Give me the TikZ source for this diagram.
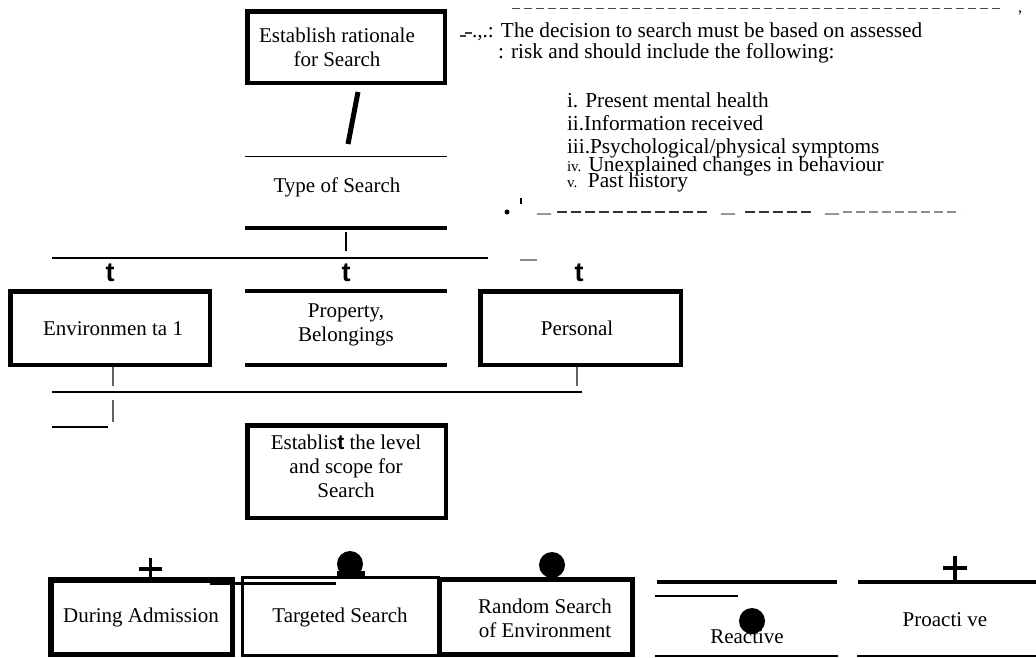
\documentclass[tikz,border=0pt]{standalone}
\usepackage{fontspec}
\setmainfont{Liberation Serif}
\newfontfamily\sansfam{Liberation Sans}
\begin{document}
\begin{tikzpicture}[x=1pt,y=-1pt,
  every node/.style={inner sep=0pt,outer sep=0pt},
  lbl/.style={font=\fontsize{21}{24}\selectfont,align=center},
  note/.style={font=\fontsize{21.3}{24}\selectfont,anchor=west},
  frame/.style={draw,line width=#1},
  tmark/.style={font=\sansfam\bfseries\fontsize{27}{27}\selectfont},
  rule/.style={line width=#1},
  greyrule/.style={draw=black!62,line width=2.5pt},
  dot/.style={circle,fill=black,minimum size=26pt}]
\useasboundingbox (0,0) rectangle (1036,657);

% --- top box
\node[frame=4.5pt,minimum width=197.5pt,minimum height=71.5pt] (b1) at (346,47) {};
\node[lbl] (b1t) at (337,47) {Establish rationale\\for Search};
\coordinate (s1) at (358,92); \coordinate (s2) at (348,144);
\draw[rule=5pt] (s1) -- (s2);

% --- type of search
\coordinate (ta) at (245,156); \coordinate (tb) at (447,156);
\draw[rule=1pt] (ta) -- (tb);
\node[lbl] (type) at (337,187) {Type of Search};
\coordinate (tc) at (245,228); \coordinate (td) at (447,228);
\draw[rule=4pt] (tc) -- (td);
\coordinate (v1) at (346,232); \coordinate (v2) at (346,251);
\draw[rule=2.5pt] (v1) -- (v2);
\coordinate (h1) at (52,258); \coordinate (h2) at (488,258);
\draw[rule=2.5pt] (h1) -- (h2);
\coordinate (g1) at (520,260); \coordinate (g2) at (537,260);
\draw[draw=black!45,line width=2pt] (g1) -- (g2);

\node[tmark] (t1) at (110,273) {t};
\node[tmark] (t2) at (346,273) {t};
\node[tmark] (t3) at (579,273) {t};

% --- three types
\node[frame=4.5pt,minimum width=199.5pt,minimum height=73.5pt] (env) at (110,328) {};
\node[lbl] (envt) at (113,329) {Environmen ta 1};
\coordinate (pa) at (245,291); \coordinate (pb) at (447,291);
\coordinate (pc) at (245,365); \coordinate (pd) at (447,365);
\draw[rule=4.5pt] (pa) -- (pb);
\draw[rule=4.5pt] (pc) -- (pd);
\node[lbl] (prop) at (346,325) {Property,\\Belongings};
\node[frame=4.5pt,minimum width=200.5pt,minimum height=73.5pt] (pers) at (580.5,328) {};
\node[lbl] (perst) at (577,328) {Personal};

\coordinate (e1) at (113,367); \coordinate (e2) at (113,386);
\draw[greyrule] (e1) -- (e2);
\coordinate (q1) at (577,367); \coordinate (q2) at (577,386);
\draw[greyrule] (q1) -- (q2);
\coordinate (k1) at (52,392); \coordinate (k2) at (582,392);
\draw[rule=2.5pt] (k1) -- (k2);
\coordinate (e3) at (113,400); \coordinate (e4) at (113,422);
\draw[greyrule] (e3) -- (e4);
\coordinate (m1) at (52,427); \coordinate (m2) at (108,427);
\draw[rule=2.5pt] (m1) -- (m2);

% --- level box
\node[frame=4.5pt,minimum width=198.5pt,minimum height=92.5pt] (lvl) at (346.5,471.5) {};
\node[lbl] (lvlt) at (346,466) {Establis{\sansfam\bfseries t} the level\\and scope for\\Search};

% --- bottom row
\node[frame=3pt,minimum width=196pt,minimum height=78pt] (tgt) at (340.5,616.5) {};
\node[lbl] (tgtt) at (340,617) {Targeted Search};
\node[frame=5.5pt,minimum width=181.5pt,minimum height=74.5pt] (adm) at (141.5,617) {};
\node[lbl] (admt) at (141,617) {During Admission};
\node[frame=5pt,minimum width=193pt,minimum height=75pt] (rnd) at (536,617) {};
\node[lbl] (rndt) at (545,618) {Random Search\\of Environment};
\coordinate (bar1) at (210,583); \coordinate (bar2) at (336,583);
\draw[rule=3pt] (bar1) -- (bar2);

% plus marks
\coordinate (pl1) at (139,569); \coordinate (pl2) at (162,569);
\coordinate (pl3) at (150.5,558); \coordinate (pl4) at (150.5,578);
\draw[rule=3.5pt] (pl1) -- (pl2); \draw[rule=3.5pt] (pl3) -- (pl4);
\coordinate (pr1) at (943,568); \coordinate (pr2) at (967,568);
\coordinate (pr3) at (955,556); \coordinate (pr4) at (955,580);
\draw[rule=3.5pt] (pr1) -- (pr2); \draw[rule=3.5pt] (pr3) -- (pr4);

% dots
\node[dot] (d1) at (350,564) {};
\fill (337,571) rectangle (365,577);
\node[dot] (d2) at (552,565) {};

% reactive
\coordinate (r1) at (657,582); \coordinate (r2) at (837,582);
\draw[rule=3.5pt] (r1) -- (r2);
\coordinate (r3) at (655,596); \coordinate (r4) at (738,596);
\draw[rule=2.5pt] (r3) -- (r4);
\coordinate (r5) at (655,656); \coordinate (r6) at (838,656);
\draw[rule=2.5pt] (r5) -- (r6);
\node[lbl] (react) at (747,637) {Reactive};
\node[dot] (d3) at (752,621) {};

% proactive
\coordinate (o1) at (858,582); \coordinate (o2) at (1036,582);
\draw[rule=3.5pt] (o1) -- (o2);
\coordinate (o3) at (857,656); \coordinate (o4) at (1036,656);
\draw[rule=2.5pt] (o3) -- (o4);
\node[lbl] (proact) at (945,620) {Proacti ve};

% --- note at top right
\coordinate (n1) at (512,8); \coordinate (n2) at (1003,8);
\draw[draw=black!70,line width=1pt,dash pattern=on 8pt off 4pt] (n1) -- (n2);
\node[font=\fontsize{16}{16}\selectfont] (comma) at (1020,13) {,};
\coordinate (w1) at (460,36); \coordinate (w2) at (466,36);
\coordinate (w3) at (465,33); \coordinate (w4) at (472,33);
\draw[draw=black!75,rule=2.5pt] (w1) -- (w2); \draw[draw=black!75,rule=2.5pt] (w3) -- (w4);
\node[note] (l1) at (472,32) {.,.: The decision to search must be based on assessed};
\node[note] (l2) at (498,53) {: risk and should include the following:};
\node[note] (i1) at (567,100) {i. Present mental health};
\node[note] (i2) at (567,123) {ii.Information received};
\node[note] (i3) at (567,148) {iii.Psychological/physical symptoms};
\node[note] (i4) at (567,166) {{\fontsize{15}{15}\selectfont iv.} Unexplained changes in behaviour};
\node[note] (i5) at (567,182) {{\fontsize{15}{15}\selectfont v.}\ \ Past history};

\node[circle,fill=black,minimum size=5pt] (bul) at (507,212) {};
\coordinate (ap1) at (521,198); \coordinate (ap2) at (521,204);
\draw[rule=1.5pt] (ap1) -- (ap2);
\coordinate (z0) at (537,214); \coordinate (z1) at (551,214);
\draw[draw=black!40,rule=2pt] (z0) -- (z1);
\coordinate (z2) at (557,212); \coordinate (z3) at (707,212);
\draw[draw=black!80,rule=2pt,dash pattern=on 10pt off 4pt] (z2) -- (z3);
\coordinate (z4) at (721,214); \coordinate (z5) at (735,214);
\draw[draw=black!40,rule=2pt] (z4) -- (z5);
\coordinate (z6) at (745,212); \coordinate (z7) at (812,212);
\draw[draw=black!80,rule=2pt,dash pattern=on 10pt off 4pt] (z6) -- (z7);
\coordinate (z8) at (825,214); \coordinate (z9) at (839,214);
\draw[draw=black!40,rule=2pt] (z8) -- (z9);
\coordinate (z10) at (843,212); \coordinate (z11) at (960,212);
\draw[draw=black!45,rule=2pt,dash pattern=on 9pt off 4pt] (z10) -- (z11);
\end{tikzpicture}
\end{document}
